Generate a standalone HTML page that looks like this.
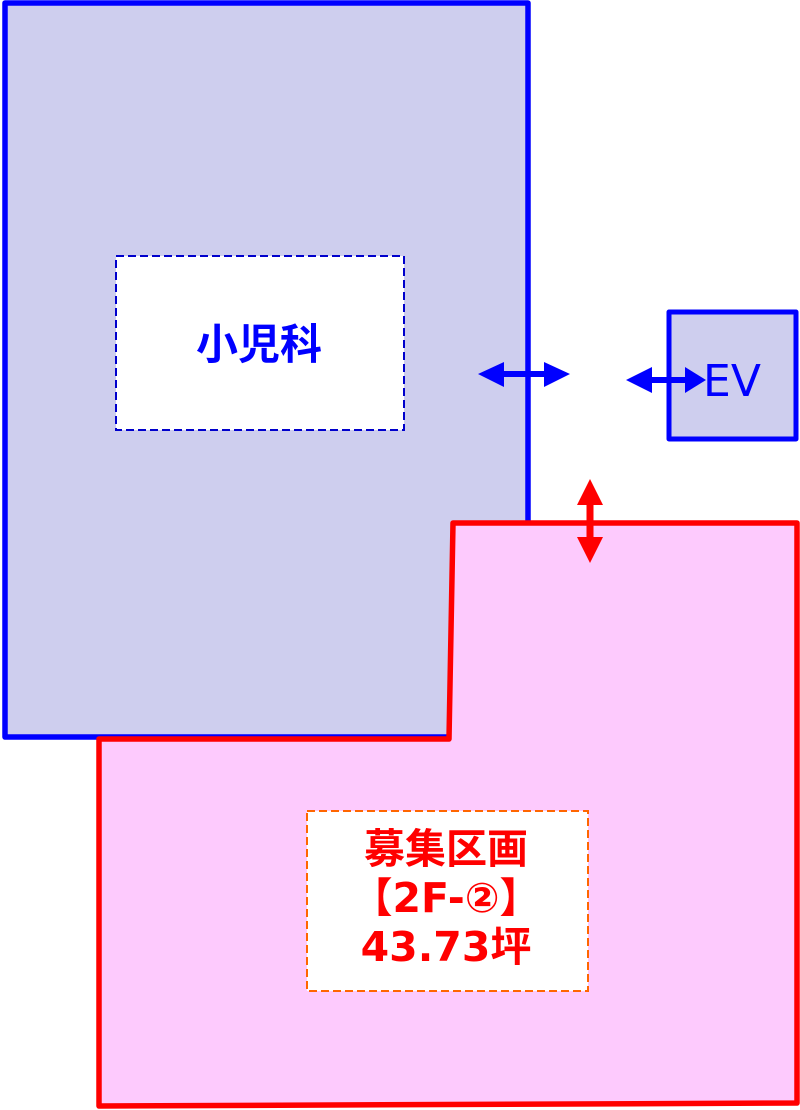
<!DOCTYPE html>
<html><head><meta charset="utf-8"><style>
html,body{margin:0;padding:0;background:#fff;width:800px;height:1110px;overflow:hidden}
svg{display:block}
</style></head><body>
<svg width="800" height="1110" xmlns="http://www.w3.org/2000/svg">
<rect x="5" y="3" width="523" height="734" fill="#ceceee" stroke="#0000ff" stroke-width="5.5" stroke-linejoin="round"/>
<polygon points="453,523 797,523 797,1103 99,1106 99,739 449,739" fill="#fdcafd" stroke="#ff0000" stroke-width="5.5" stroke-linejoin="round"/>
<rect x="116" y="256" width="288" height="174" fill="#fff" stroke="#0000cc" stroke-width="2" stroke-dasharray="8,4"/>
<text x="259" y="359" font-family="'DejaVu Sans', 'Noto Sans CJK JP', sans-serif" font-size="42" font-weight="bold" fill="#0000ff" text-anchor="middle">小児科</text>
<rect x="669" y="312" width="127" height="127" fill="#ceceee" stroke="#0000ff" stroke-width="5" stroke-linejoin="round"/>
<text x="732" y="396" font-family="'DejaVu Sans', sans-serif" font-size="44" fill="#0000ff" text-anchor="middle">EV</text>
<line x1="500" y1="374" x2="548" y2="374" stroke="#0000ff" stroke-width="6"/>
<polygon points="478,374 504,362 504,387" fill="#0000ff"/>
<polygon points="570,374 544,362 544,387" fill="#0000ff"/>
<line x1="648" y1="380" x2="690" y2="380" stroke="#0000ff" stroke-width="6"/>
<polygon points="626,380 652,367 652,393" fill="#0000ff"/>
<polygon points="706,380 685,367 685,393" fill="#0000ff"/>
<line x1="590" y1="500" x2="590" y2="545" stroke="#ff0000" stroke-width="7"/>
<polygon points="590,479 577,505 603,505" fill="#ff0000"/>
<polygon points="590,563 577,537 603,537" fill="#ff0000"/>
<rect x="307" y="811" width="281" height="180" fill="#fff" stroke="#ff6600" stroke-width="2" stroke-dasharray="8,4"/>
<g font-family="'DejaVu Sans', 'Noto Sans CJK JP', sans-serif" font-size="41" font-weight="bold" fill="#ff0000" text-anchor="middle">
<text x="446" y="863">募集区画</text>
<text x="446" y="912">【2F-②】</text>
<text x="446" y="961">43.73坪</text>
</g>
</svg>
</body></html>
